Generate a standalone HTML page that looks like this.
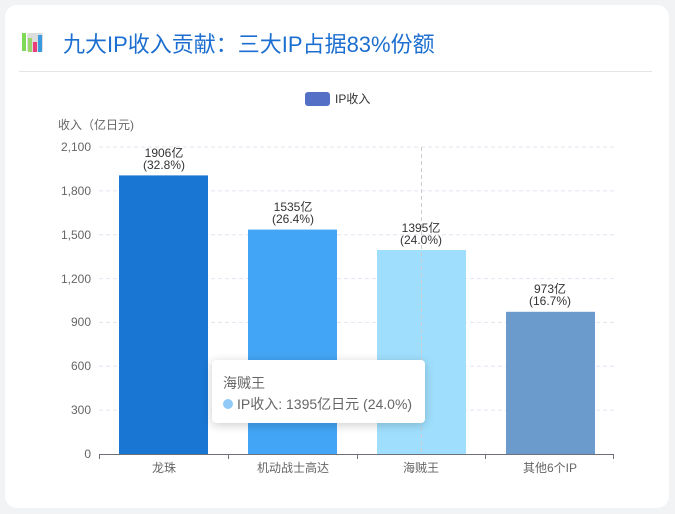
<!DOCTYPE html><html><head><meta charset="utf-8"><style>
body{margin:0;width:675px;height:514px;background:#f2f3f5;font-family:"Liberation Sans","Noto Sans CJK SC",sans-serif;overflow:hidden;position:relative}
.card{position:absolute;left:5px;top:5px;width:664px;height:503px;background:#fff;border-radius:12px}
.t{position:absolute;left:26px;top:29px;font-size:22px;color:#1c6fd0}
.hr{position:absolute;left:19px;top:71px;width:633px;height:1px;background:#e3e5e8}
.tip{position:absolute;left:212px;top:360px;width:213px;height:63px;background:#fff;border-radius:4px;box-shadow:0 2px 10px rgba(0,0,0,.2);font-size:14px;color:#666}
</style></head><body>
<div class="card"></div>
<svg style="position:absolute;left:0;top:0" width="675" height="514" font-family="Liberation Sans, Noto Sans CJK SC, sans-serif">
<rect x="22" y="33" width="4" height="18" fill="#7ed957"/><rect x="27" y="33" width="16" height="19" fill="#ddd" rx="2"/>
<rect x="28" y="38" width="4" height="14" fill="#9ad66b"/><rect x="33" y="42" width="4" height="10" fill="#e83e7a"/><rect x="38" y="35" width="4" height="17" fill="#3a9ae0"/>
<text x="63" y="52" font-size="22" fill="#1c6fd0">九大IP收入贡献：三大IP占据83%份额</text>
<rect x="19" y="71" width="633" height="1" fill="#e3e5e8"/>
<rect x="305" y="92" width="25" height="14" rx="3" fill="#5470c6"/>
<text x="335" y="103" font-size="12" fill="#333">IP收入</text>
<text x="58" y="129" font-size="12" fill="#666">收入（亿日元)</text>
<g stroke="#e0e6f1" stroke-dasharray="4,3">
<line x1="99" x2="614" y1="147" y2="147"/><line x1="99" x2="614" y1="190.9" y2="190.9"/><line x1="99" x2="614" y1="234.7" y2="234.7"/><line x1="99" x2="614" y1="278.6" y2="278.6"/><line x1="99" x2="614" y1="322.4" y2="322.4"/><line x1="99" x2="614" y1="366.3" y2="366.3"/><line x1="99" x2="614" y1="410.1" y2="410.1"/></g>
<g font-size="12" fill="#666" text-anchor="end">
<text x="91" y="151">2,100</text><text x="91" y="195">1,800</text><text x="91" y="239">1,500</text><text x="91" y="283">1,200</text><text x="91" y="326">900</text><text x="91" y="370">600</text><text x="91" y="414">300</text><text x="91" y="458">0</text></g>
<rect x="119" y="175.4" width="89" height="278.6" fill="#1976d2"/>
<rect x="248" y="229.6" width="89" height="224.4" fill="#42a5f5"/>
<rect x="377" y="250" width="89" height="204" fill="#9fdffd"/>
<rect x="506" y="311.8" width="89" height="142.2" fill="#6b9bcc"/>
<line x1="421.5" x2="421.5" y1="147" y2="454" stroke="#ccc" stroke-dasharray="4,3"/>
<line x1="99" x2="614" y1="454.5" y2="454.5" stroke="#6e7079"/>
<g stroke="#6e7079"><line x1="99.5" x2="99.5" y1="454" y2="459"/><line x1="228.5" x2="228.5" y1="454" y2="459"/><line x1="357.5" x2="357.5" y1="454" y2="459"/><line x1="485.5" x2="485.5" y1="454" y2="459"/><line x1="613.5" x2="613.5" y1="454" y2="459"/></g>
<g font-size="12" fill="#666" text-anchor="middle">
<text x="164" y="472">龙珠</text><text x="293" y="472">机动战士高达</text><text x="421" y="472">海贼王</text><text x="550" y="472">其他6个IP</text></g>
<g font-size="12" fill="#333" text-anchor="middle">
<text x="164" y="157">1906亿</text><text x="164" y="169">(32.8%)</text>
<text x="293" y="211">1535亿</text><text x="293" y="223">(26.4%)</text>
<text x="421" y="232">1395亿</text><text x="421" y="244">(24.0%)</text>
<text x="550" y="293">973亿</text><text x="550" y="305">(16.7%)</text></g>
</svg>
<div class="tip"><div style="position:absolute;left:11px;top:13px">海贼王</div>
<div style="position:absolute;left:11px;top:34px;white-space:nowrap"><span style="display:inline-block;width:10px;height:10px;border-radius:5px;background:#90caf9;margin-right:4px"></span>IP收入: 1395亿日元 (24.0%)</div></div>
</body></html>
